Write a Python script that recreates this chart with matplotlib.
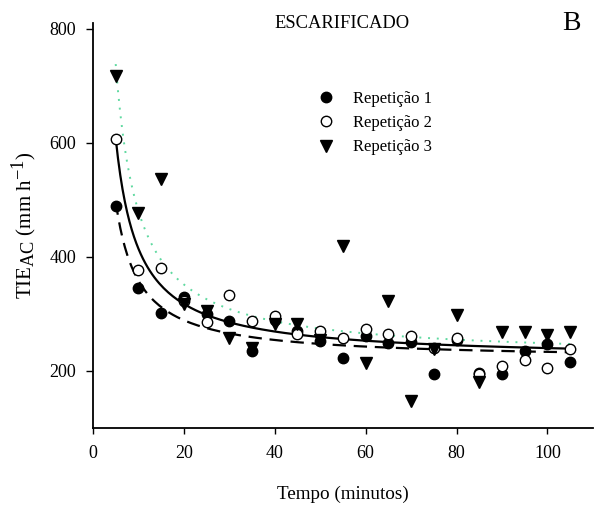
import numpy as np
import matplotlib
matplotlib.use('Agg')
import matplotlib.pyplot as plt
import matplotlib._mathtext as mathtext

plt.rcParams['font.family'] = ['Liberation Serif', 'DejaVu Serif']
plt.rcParams['mathtext.fontset'] = 'custom'
plt.rcParams['mathtext.rm'] = 'Liberation Serif'
plt.rcParams['mathtext.it'] = 'Liberation Serif:italic'
# sub/superscripts almost full size, like the original label
mathtext.SHRINK_FACTOR = 0.88

# tempo (minutos)
tempo = [5, 10, 15, 20, 25, 30, 35, 40, 45, 50, 55,
         60, 65, 70, 75, 80, 85, 90, 95, 100, 105]

# TIE_AC (mm/h)
rep1 = [490, 346, 301, 329, 300, 287, 235, 290, 270, 253, 223,
        261, 249, 250, 194, 255, 197, 195, 235, 248, 215]
rep2 = [607, 377, 380, 323, 286, 333, 287, 296, 265, 270, 257,
        273, 265, 262, 240, 257, 195, 209, 220, 206, 239]
rep3 = [717, 477, 537, 318, 305, 257, 240, 282, 282, 255, 419,
        214, 323, 147, 238, 298, 180, 268, 268, 263, 268]

labels = ['Repetição 1', 'Repetição 2', 'Repetição 3']


def fit_hyperbola(x, y):
    # y = y0 + a/x, least squares
    x = np.asarray(x, float)
    a, y0 = np.polyfit(1.0 / x, np.asarray(y, float), 1)
    xx = np.linspace(x.min(), x.max(), 200)
    return xx, y0 + a / xx


fig = plt.figure(figsize=(6.03, 5.18), dpi=100)
ax = fig.add_axes([0.1542, 0.1737, 0.829, 0.782])

green = '#5fd9a0'

xx, yy = fit_hyperbola(tempo, rep1)
ax.plot(xx, yy, color='black', lw=1.6, ls=(0, (6, 3.5)), zorder=2)
xx, yy = fit_hyperbola(tempo, rep2)
ax.plot(xx, yy, color='black', lw=1.6, ls='-', zorder=2)
xx, yy = fit_hyperbola(tempo, rep3)
ax.plot(xx, yy, color=green, lw=1.4, ls=(0, (1, 3.5)), zorder=2)

h1, = ax.plot(tempo, rep1, 'o', color='black', ms=7.5, ls='none', zorder=3, label=labels[0])
h2, = ax.plot(tempo, rep2, 'o', mfc='white', mec='black', mew=1.0, ms=7.5, ls='none', zorder=3, label=labels[1])
h3, = ax.plot(tempo, rep3, 'v', color='black', ms=8, ls='none', zorder=3, label=labels[2])

ax.set_xlim(0, 110)
ax.set_ylim(100, 810)
ax.set_xticks([0, 20, 40, 60, 80, 100])
ax.set_yticks([200, 400, 600, 800])
ax.spines['top'].set_visible(False)
ax.spines['right'].set_visible(False)
ax.spines['left'].set_linewidth(1.3)
ax.spines['bottom'].set_linewidth(1.3)
ax.tick_params(axis='y', direction='out', length=5, width=1.0, labelsize=13, pad=7)
ax.tick_params(axis='x', direction='out', length=4, width=1.0, labelsize=13, pad=8)

ax.set_xlabel('Tempo (minutos)', fontsize=13.8, labelpad=17)
ax.set_ylabel(r'TIE$_{\mathrm{AC}}$ (mm h$^{\mathrm{-1}}$)', fontsize=15, labelpad=8)

fig.text(0.567, 0.955, 'ESCARIFICADO', fontsize=13.3, ha='center', va='center')
fig.text(0.948, 0.955, 'B', fontsize=20, ha='center', va='center')

ax.legend(handles=[h1, h2, h3], loc='upper left', bbox_to_anchor=(0.43, 0.853),
          frameon=False, fontsize=12, labelspacing=0.5, handletextpad=1.0,
          handlelength=1.2, borderpad=0)

fig.savefig('out.png', dpi=100)
